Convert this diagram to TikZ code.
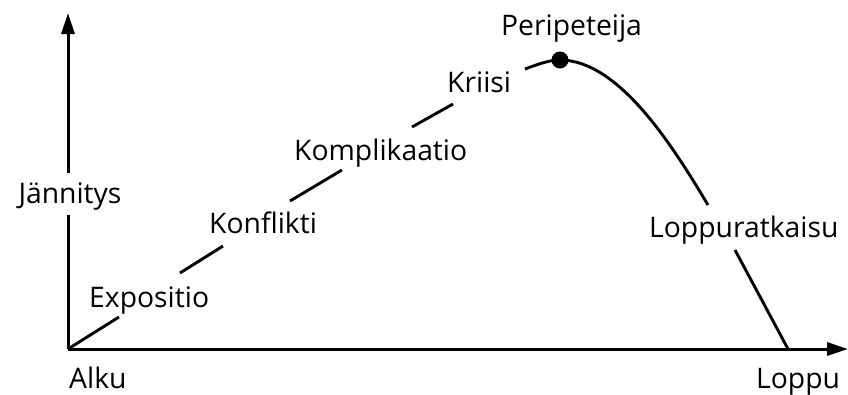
\documentclass[tikz,border=0pt]{standalone}
\usepackage{fontspec}
\setmainfont{Open Sans}
\usetikzlibrary{arrows.meta}
\begin{document}
\begin{tikzpicture}[x=1pt,y=-1pt,
  curve/.style={line width=2.9pt,line cap=butt},
  axis/.style={line width=3pt,-{Triangle[length=21pt,width=13pt]}},
  lbl/.style={anchor=base west,inner sep=0pt,font=\fontsize{28.3}{32}\selectfont}]
\useasboundingbox (0,0) rectangle (848,394);
% axes
\coordinate (O) at (68,349);
\coordinate (ytop) at (68,13);
\coordinate (xend) at (848,349);
\coordinate (ygapA) at (68,215);
\coordinate (ygapB) at (68,173);
\draw[line width=3pt] (O) -- (ygapA);
\draw[axis] (ygapB) -- (ytop);
\draw[axis] (O) -- (xend);
% labels
\node[lbl,anchor=base] (jan) at (70,203) {Jännitys};
\node[lbl] (alku) at (69,388) {Alku};
\node[lbl] (loppu) at (756,388) {Loppu};
\node[lbl] (expo) at (89,307) {Expositio};
\node[lbl] (konf) at (209,233) {Konflikti};
\node[lbl] (komp) at (294,160) {Komplikaatio};
\node[lbl] (krii) at (447,92) {Kriisi};
\node[lbl] (peri) at (501,35) {Peripeteija};
\node[lbl] (lopr) at (649,237) {Loppuratkaisu};
% curve pieces
\coordinate (a1) at (119,317);
\coordinate (b0) at (180,273); \coordinate (b1) at (223,246);
\coordinate (c0) at (290,201); \coordinate (c1) at (342,170);
\coordinate (d0) at (412,127); \coordinate (d1) at (453,104);
\coordinate (e0) at (525,69);
\coordinate (peak) at (560,60);
\coordinate (f1) at (708,205);
\coordinate (g0) at (735,250);
\coordinate (g1) at (788,349);
\draw[curve] (O) -- (a1);
\draw[curve] (b0) -- (b1);
\draw[curve] (c0) -- (c1);
\draw[curve] (d0) -- (d1);
\draw[curve] (e0) .. controls (540,63.5) and (550,60) .. (peak)
  .. controls (620,60) and (675,150) .. (f1);
\draw[curve] (g0) -- (g1);
\fill (peak) circle (8.5);
\end{tikzpicture}
\end{document}
